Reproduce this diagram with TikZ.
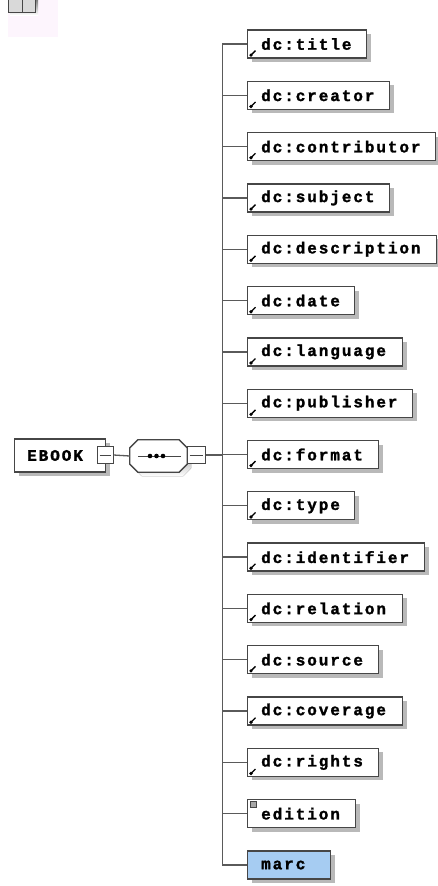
\documentclass[tikz,border=0pt]{standalone}
\usepackage{fontspec}
\newfontfamily\mono[LetterSpace=12,FakeBold=1.5]{Liberation Mono}
\usetikzlibrary{shadows,calc}
\definecolor{edge}{RGB}{70,70,70}
\definecolor{wire}{RGB}{90,90,90}
\definecolor{shade}{RGB}{185,185,185}
\definecolor{marcblue}{RGB}{166,204,242}
\definecolor{pinkbg}{RGB}{253,245,253}
\tikzset{
  shad/.style={drop shadow={shadow xshift=4pt,shadow yshift=-4pt,fill=shade,opacity=1}},
  elbox/.style={draw=edge,line width=1.3pt,fill=white,shad,minimum height=28pt,inner sep=0pt,anchor=west},
  lbl/.style={anchor=west,inner sep=0pt,font=\mono\bfseries\fontsize{16pt}{16pt}\selectfont},
  conn/.style={draw=wire,line width=1.3pt},
  minusbox/.style={draw=edge,line width=1pt,fill=white,minimum width=16pt,minimum height=17pt,inner sep=0pt},
  refmark/.style={line width=1.3pt,black},
}
\begin{document}
\begin{tikzpicture}[x=1pt,y=-1pt]
\useasboundingbox (0,0) rectangle (438,886);
% top-left icon
\fill[pinkbg] (8,0) rectangle (58,37);
\fill[shade] (10,0) rectangle (38,15);
\draw[edge,line width=1pt,fill=black!15] (8,-1) rectangle (35,12);
\draw[edge,line width=1pt] (22,-1) -- (22,12);
% root
\node[elbox,minimum width=91pt,minimum height=33pt] (ebook) at (14,455.5) {};
\node[lbl] (ebooklbl) at (27,455.5) {EBOOK};
\node[minusbox] (sq1) at (105,455) {};
\draw[edge,line width=1pt] ($(sq1.west)+(3,0)$) -- ($(sq1.east)+(-3,0)$);
% sequence
\node[minimum width=57pt,minimum height=32pt,inner sep=0pt] (seq) at (158.5,456) {};
\fill[shade] ($(seq.north west)+(4,12)$) -- ($(seq.north west)+(12,4)$) -- ($(seq.north east)+(-4,4)$)
  -- ($(seq.north east)+(4,12)$) -- ($(seq.south east)+(4,-4)$) -- ($(seq.south east)+(-4,4)$)
  -- ($(seq.south west)+(12,4)$) -- ($(seq.south west)+(4,-4)$) -- cycle;
\draw[edge,line width=1.3pt,fill=white] ($(seq.north west)+(0,8)$) -- ($(seq.north west)+(8,0)$) -- ($(seq.north east)+(-8,0)$)
  -- ($(seq.north east)+(0,8)$) -- ($(seq.south east)+(0,-8)$) -- ($(seq.south east)+(-8,0)$)
  -- ($(seq.south west)+(8,0)$) -- ($(seq.south west)+(0,-8)$) -- cycle;
\draw[edge,line width=1pt] (138,456) -- (181,456);
\foreach \dx in {150,156.5,163} \fill[black] (\dx,456) circle (2.3pt);
\node[minusbox,minimum width=18pt] (sq2) at (196,455) {};
\draw[edge,line width=1pt] ($(sq2.west)+(3,0)$) -- ($(sq2.east)+(-3,0)$);
\draw[conn] (sq1.east) -- (seq.west);
% children
\foreach \i/\w/\t in {0/119/dc:title,1/142/dc:creator,2/188/dc:contributor,3/142/dc:subject,
  4/189/dc:description,5/107/dc:date,6/155/dc:language,7/165/dc:publisher,8/131/dc:format,
  9/107/dc:type,10/177/dc:identifier,11/155/dc:relation,12/131/dc:source,13/155/dc:coverage,
  14/131/dc:rights}{
  \pgfmathsetmacro\yy{44+\i*51.3125}
  \node[elbox,minimum width=\w pt] (b\i) at (247,\yy) {};
  \node[lbl] (l\i) at (261,\yy) {\t};
  \draw[refmark] ($(b\i.south west)+(3.5,-3)$) -- ++(5,-5);
  \fill[black] ($(b\i.south west)+(4,-3.5)$) circle (1.8pt);
  \draw[conn] (sq2.east) -- ++(17,0) |- (b\i.west);
}
\pgfmathsetmacro\yy{44+15*51.3125}
\node[elbox,minimum width=108pt] (b15) at (247,\yy) {};
\node[lbl] (l15) at (261,\yy) {edition};
\draw[edge,line width=0.6pt,fill=black!35] ($(b15.north west)+(3,2.5)$) rectangle ++(6,6);
\draw[conn] (sq2.east) -- ++(17,0) |- (b15.west);
\pgfmathsetmacro\yy{44+16*51.3125}
\node[elbox,fill=marcblue,minimum width=83pt] (b16) at (247,\yy) {};
\node[lbl] (l16) at (261,\yy) {marc};
\draw[conn] (sq2.east) -- ++(17,0) |- (b16.west);
\end{tikzpicture}
\end{document}
